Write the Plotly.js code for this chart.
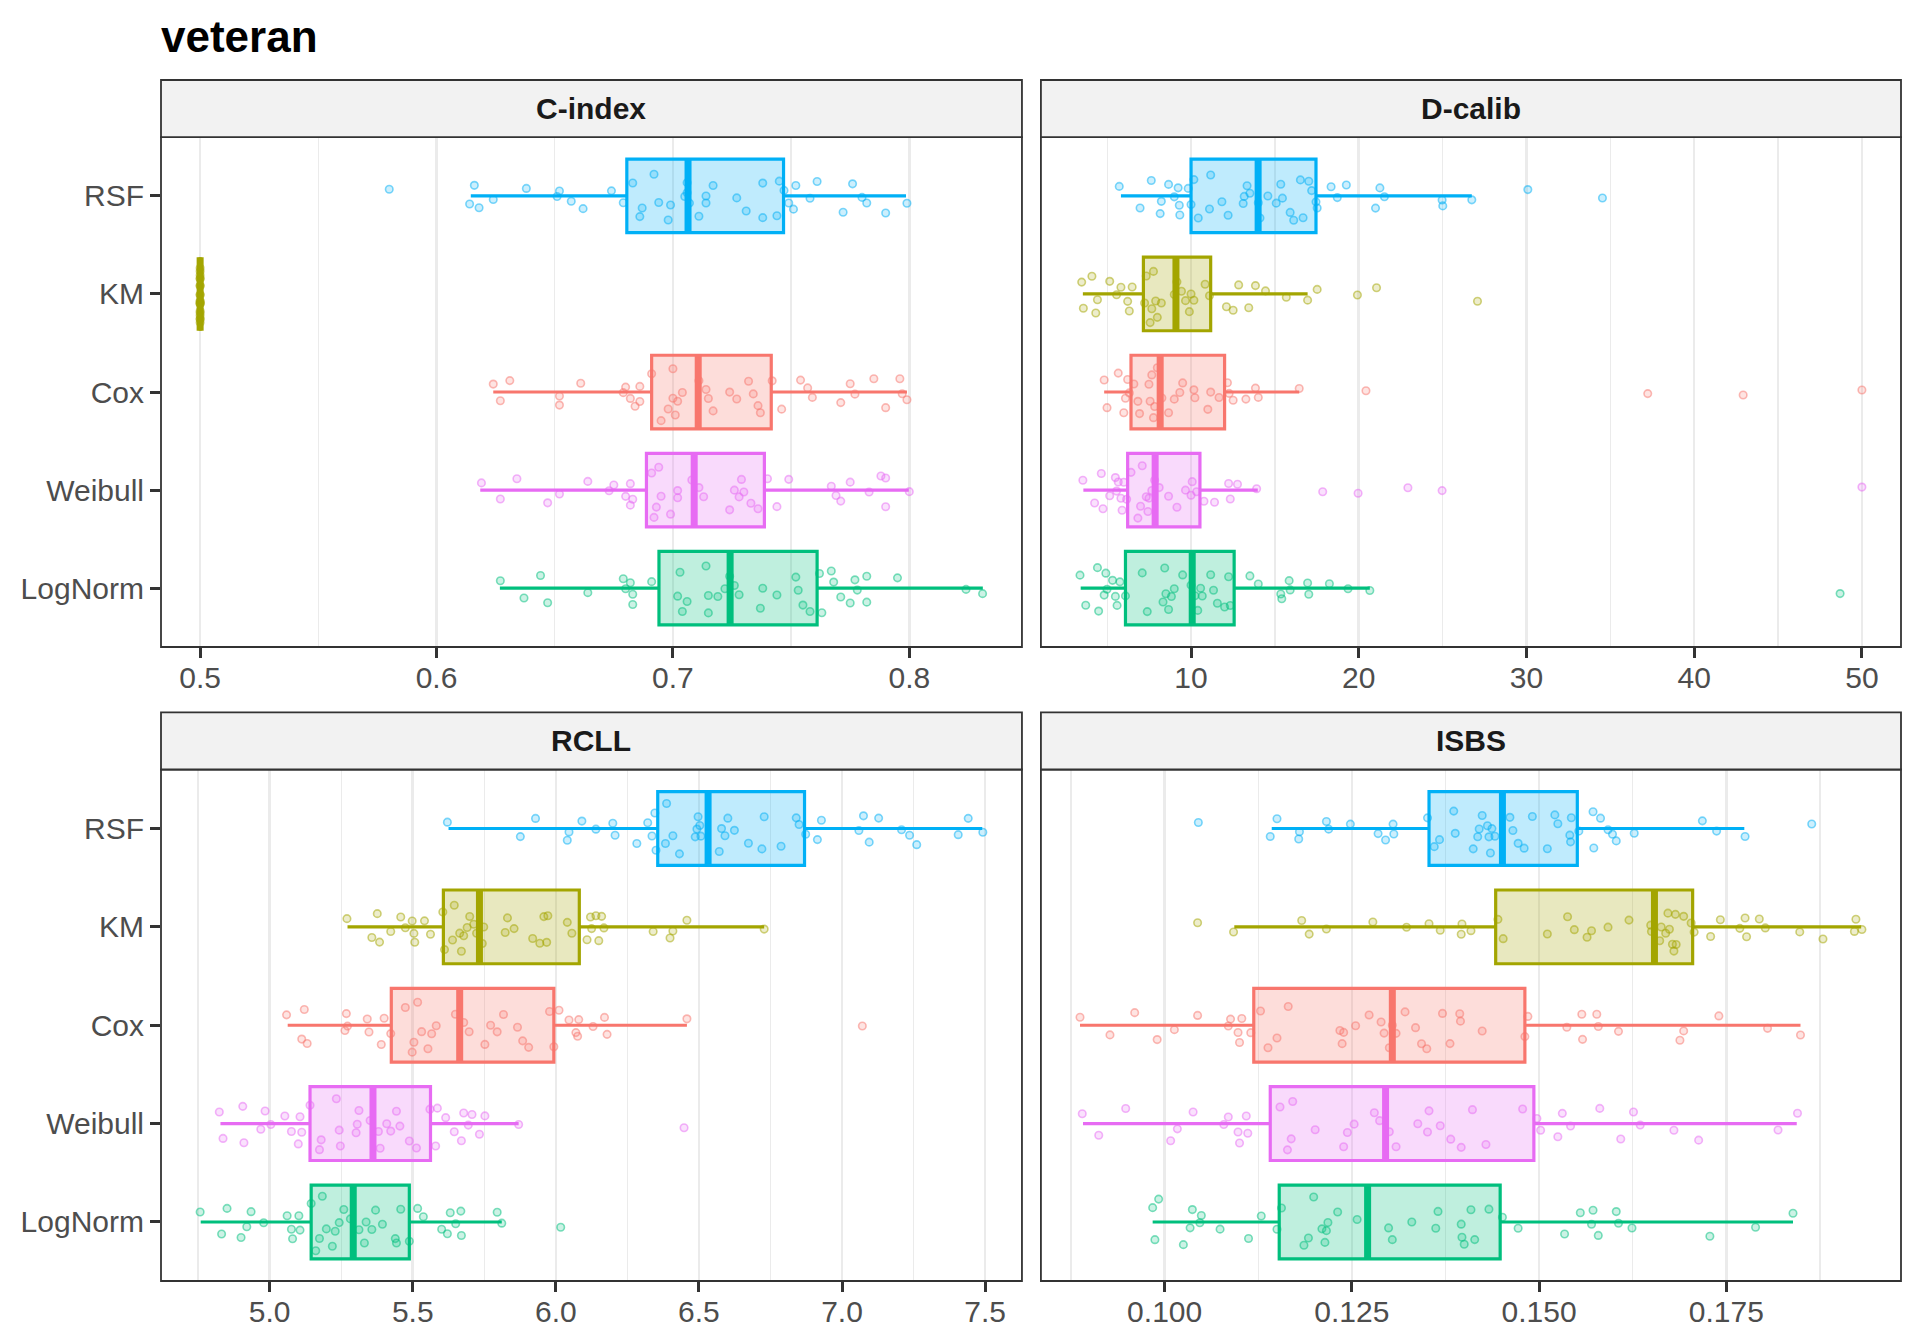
<!DOCTYPE html>
<html>
<head>
<meta charset="utf-8">
<script src="https://cdn.plot.ly/plotly-3.0.1.min.js"></script>
<style>
  html, body { margin: 0; padding: 0; background: #fff; }
  #chart { width: 1920px; height: 1344px; }
</style>
</head>
<body>
<div id="chart"></div>
<script>
// methods, top to bottom as in the figure
const methods = ['RSF', 'KM', 'Cox', 'Weibull', 'LogNorm'];
const colors  = ['#00B0F6', '#A3A500', '#F8766D', '#E76BF3', '#00BF7D'];
const panelTitles = ['C-index', 'D-calib', 'RCLL', 'ISBS'];

// ---- C-index ----  (order: RSF, KM, Cox, Weibull, LogNorm)
const cindexQ1  = [0.6805, 0.5, 0.6910, 0.6888, 0.6941];
const cindexMed = [0.7064, 0.5, 0.7107, 0.7090, 0.7242];
const cindexQ3  = [0.7468, 0.5, 0.7416, 0.7387, 0.7610];
const cindexLo  = [0.6145, 0.5, 0.6240, 0.6185, 0.6268];
const cindexHi  = [0.7986, 0.5, 0.7990, 0.7998, 0.8311];
const cindexRSF = [0.580, 0.614, 0.618, 0.624, 0.616, 0.638, 0.652, 0.651, 0.657, 0.662, 0.674, 0.679,
  0.683, 0.686, 0.687, 0.692, 0.694, 0.698, 0.699, 0.705, 0.706, 0.706, 0.707, 0.711, 0.714, 0.714,
  0.717, 0.727, 0.731, 0.738, 0.738, 0.744, 0.745, 0.747, 0.749, 0.751, 0.752, 0.758, 0.761, 0.772,
  0.776, 0.780, 0.782, 0.790, 0.799];
const cindexKM = [0.5, 0.5, 0.5, 0.5, 0.5, 0.5, 0.5, 0.5, 0.5, 0.5, 0.5, 0.5, 0.5, 0.5, 0.5, 0.5, 0.5, 0.5, 0.5, 0.5];
const cindexCox = [0.624, 0.627, 0.631, 0.652, 0.652, 0.661, 0.679, 0.680, 0.682, 0.684, 0.686, 0.686,
  0.691, 0.695, 0.698, 0.700, 0.700, 0.701, 0.702, 0.704, 0.711, 0.714, 0.715, 0.717, 0.724, 0.727,
  0.732, 0.734, 0.736, 0.737, 0.742, 0.746, 0.754, 0.757, 0.759, 0.771, 0.775, 0.777, 0.785, 0.790,
  0.796, 0.797, 0.799];
const cindexWeibull = [0.619, 0.627, 0.634, 0.647, 0.652, 0.664, 0.673, 0.675, 0.680, 0.682, 0.682, 0.683,
  0.691, 0.692, 0.693, 0.694, 0.695, 0.699, 0.702, 0.702, 0.708, 0.711, 0.713, 0.724, 0.726, 0.728,
  0.729, 0.730, 0.733, 0.736, 0.740, 0.744, 0.749, 0.767, 0.769, 0.771, 0.775, 0.783, 0.788, 0.790,
  0.790, 0.800];
const cindexLogNorm = [0.627, 0.637, 0.644, 0.647, 0.664, 0.679, 0.680, 0.682, 0.683, 0.683, 0.691, 0.702,
  0.703, 0.704, 0.706, 0.714, 0.715, 0.715, 0.719, 0.722, 0.724, 0.726, 0.728, 0.737, 0.738, 0.744,
  0.752, 0.753, 0.755, 0.758, 0.762, 0.763, 0.767, 0.768, 0.771, 0.775, 0.777, 0.778, 0.782, 0.782,
  0.795, 0.824, 0.831];

// ---- D-calib ----
const dcalibQ1  = [10.0, 7.16, 6.42, 6.22, 6.09];
const dcalibMed = [14.0, 9.10, 8.16, 7.86, 10.07];
const dcalibQ3  = [17.45, 11.17, 12.0, 10.53, 12.57];
const dcalibLo  = [5.82, 3.55, 4.82, 3.58, 3.42];
const dcalibHi  = [26.74, 16.95, 16.45, 13.98, 20.66];
const dcalibRSF = [5.72, 6.96, 7.63, 8.16, 8.23, 8.66, 9.00, 9.23, 9.30, 9.33, 9.83, 10.0, 10.17, 10.43,
  11.10, 11.17, 11.84, 12.21, 13.11, 13.17, 13.34, 13.51, 14.01, 14.11, 14.58, 15.08, 15.35, 15.45,
  15.91, 16.12, 16.52, 16.68, 17.02, 17.19, 17.45, 17.52, 18.35, 18.72, 19.26, 21.00, 21.26, 21.53,
  24.97, 25.01, 26.74, 30.08, 34.53];
const dcalibKM = [3.48, 3.58, 4.09, 4.32, 4.42, 5.15, 5.56, 5.82, 6.22, 6.32, 6.49, 7.23, 7.33, 7.56,
  7.66, 7.76, 7.89, 7.99, 8.23, 9.00, 9.16, 9.43, 9.67, 9.90, 10.0, 10.17, 10.84, 11.10, 12.11, 12.51,
  12.84, 13.44, 13.84, 14.44, 15.68, 16.95, 17.52, 19.92, 21.06, 27.08];
const dcalibCox = [4.82, 4.99, 5.66, 5.99, 6.09, 6.22, 6.32, 6.59, 6.83, 6.93, 7.49, 7.56, 7.66, 7.76,
  7.83, 7.99, 8.26, 8.66, 9.00, 9.33, 9.50, 10.17, 10.23, 11.00, 11.17, 11.67, 12.17, 12.27, 12.51,
  13.27, 13.84, 14.01, 16.45, 20.43, 37.23, 42.92, 50.0];
const dcalibWeibull = [3.55, 4.25, 4.65, 4.75, 5.15, 5.49, 5.56, 5.66, 5.82, 5.89, 5.99, 6.16, 6.42, 6.83,
  6.99, 7.09, 7.33, 7.43, 7.49, 7.66, 7.83, 8.10, 8.66, 9.16, 9.67, 10.0, 10.07, 10.33, 10.77, 11.40,
  12.24, 12.34, 12.77, 13.91, 17.85, 19.96, 22.93, 24.97, 50.0];
const dcalibLogNorm = [3.38, 3.72, 4.42, 4.49, 4.82, 4.92, 4.99, 5.32, 5.49, 5.59, 5.76, 6.09, 7.09, 7.39,
  8.33, 8.43, 8.50, 8.66, 8.83, 9.00, 9.50, 10.0, 10.23, 10.40, 10.57, 10.67, 11.17, 11.34, 11.57,
  12.0, 12.24, 12.34, 13.51, 14.01, 15.35, 15.41, 15.85, 15.91, 16.95, 17.02, 18.25, 19.36, 20.66, 48.70];

// ---- RCLL ----
const rcllQ1  = [6.356, 5.607, 5.425, 5.141, 5.145];
const rcllMed = [6.532, 5.733, 5.664, 5.361, 5.292];
const rcllQ3  = [6.869, 6.082, 5.993, 5.562, 5.488];
const rcllLo  = [5.625, 5.272, 5.063, 4.828, 4.759];
const rcllHi  = [7.490, 6.728, 6.458, 5.870, 5.811];
const rcllRSF = [5.621, 5.876, 5.929, 6.040, 6.046, 6.091, 6.140, 6.199, 6.207, 6.283, 6.321, 6.336,
  6.346, 6.350, 6.383, 6.387, 6.409, 6.432, 6.487, 6.493, 6.497, 6.503, 6.507, 6.571, 6.579, 6.591,
  6.601, 6.624, 6.673, 6.720, 6.728, 6.787, 6.840, 6.850, 6.873, 6.914, 6.928, 7.059, 7.075, 7.095,
  7.128, 7.208, 7.236, 7.261, 7.406, 7.441, 7.492];
const rcllKM = [5.270, 5.357, 5.376, 5.384, 5.423, 5.458, 5.474, 5.498, 5.504, 5.507, 5.541, 5.562,
  5.605, 5.611, 5.639, 5.645, 5.664, 5.670, 5.678, 5.690, 5.699, 5.713, 5.723, 5.743, 5.748, 5.823,
  5.831, 5.854, 5.919, 5.944, 5.958, 5.968, 5.972, 6.040, 6.056, 6.109, 6.121, 6.125, 6.140, 6.150,
  6.160, 6.168, 6.340, 6.399, 6.409, 6.458, 6.728];
const rcllCox = [5.059, 5.112, 5.121, 5.131, 5.263, 5.268, 5.272, 5.341, 5.347, 5.390, 5.400, 5.423,
  5.474, 5.498, 5.504, 5.517, 5.531, 5.553, 5.566, 5.582, 5.649, 5.678, 5.697, 5.752, 5.772, 5.795,
  5.817, 5.866, 5.884, 5.905, 5.978, 5.993, 6.011, 6.046, 6.070, 6.076, 6.080, 6.130, 6.170, 6.179,
  6.458, 7.071];
const rcllWeibull = [4.824, 4.837, 4.906, 4.910, 4.969, 4.984, 5.004, 5.053, 5.076, 5.100, 5.106, 5.112,
  5.141, 5.174, 5.180, 5.233, 5.243, 5.247, 5.302, 5.306, 5.312, 5.351, 5.380, 5.386, 5.409, 5.423,
  5.443, 5.455, 5.488, 5.513, 5.560, 5.580, 5.586, 5.615, 5.645, 5.670, 5.678, 5.694, 5.707, 5.733,
  5.752, 5.870, 6.448];
const rcllLogNorm = [4.757, 4.832, 4.851, 4.900, 4.920, 4.935, 4.979, 5.061, 5.076, 5.080, 5.102, 5.106,
  5.145, 5.161, 5.174, 5.184, 5.198, 5.219, 5.229, 5.243, 5.259, 5.282, 5.312, 5.331, 5.337, 5.357,
  5.370, 5.394, 5.439, 5.443, 5.458, 5.488, 5.517, 5.537, 5.601, 5.621, 5.631, 5.650, 5.668, 5.670,
  5.795, 5.811, 6.017];

// ---- ISBS ----
const isbsQ1  = [0.1353, 0.1442, 0.1119, 0.1141, 0.1153];
const isbsMed = [0.1451, 0.1654, 0.1304, 0.1295, 0.1271];
const isbsQ3  = [0.1551, 0.1705, 0.1481, 0.1493, 0.1448];
const isbsLo  = [0.1143, 0.1093, 0.0887, 0.0891, 0.0984];
const isbsHi  = [0.1774, 0.1930, 0.1849, 0.1844, 0.1839];
const isbsRSF = [0.1045, 0.1141, 0.1150, 0.1179, 0.1180, 0.1216, 0.1219, 0.1248, 0.1285, 0.1295, 0.1305,
  0.1306, 0.1351, 0.1360, 0.1367, 0.1386, 0.1388, 0.1412, 0.1418, 0.1420, 0.1424, 0.1431, 0.1433,
  0.1435, 0.1437, 0.1441, 0.1461, 0.1465, 0.1472, 0.1480, 0.1491, 0.1511, 0.1521, 0.1525, 0.1541,
  0.1542, 0.1543, 0.1553, 0.1572, 0.1573, 0.1582, 0.1592, 0.1598, 0.1603, 0.1627, 0.1718, 0.1737,
  0.1775, 0.1864];
const isbsKM = [0.1044, 0.1092, 0.1183, 0.1193, 0.1216, 0.1278, 0.1323, 0.1353, 0.1368, 0.1396, 0.1397,
  0.1409, 0.1445, 0.1452, 0.1511, 0.1538, 0.1547, 0.1564, 0.1570, 0.1592, 0.1620, 0.1649, 0.1650,
  0.1661, 0.1663, 0.1669, 0.1672, 0.1674, 0.1678, 0.1680, 0.1682, 0.1683, 0.1693, 0.1703, 0.1707,
  0.1729, 0.1742, 0.1768, 0.1775, 0.1777, 0.1794, 0.1802, 0.1848, 0.1879, 0.1921, 0.1923, 0.1931];
const isbsCox = [0.0887, 0.0927, 0.0960, 0.0990, 0.1013, 0.1044, 0.1085, 0.1088, 0.1098, 0.1100, 0.1103,
  0.1115, 0.1128, 0.1138, 0.1150, 0.1165, 0.1234, 0.1237, 0.1239, 0.1255, 0.1273, 0.1289, 0.1293,
  0.1300, 0.1304, 0.1309, 0.1321, 0.1335, 0.1343, 0.1350, 0.1371, 0.1381, 0.1394, 0.1395, 0.1424,
  0.1481, 0.1485, 0.1537, 0.1557, 0.1558, 0.1577, 0.1579, 0.1606, 0.1688, 0.1693, 0.1740, 0.1805, 0.1849];
const isbsWeibull = [0.0890, 0.0912, 0.0948, 0.1008, 0.1017, 0.1038, 0.1079, 0.1085, 0.1098, 0.1100,
  0.1109, 0.1111, 0.1154, 0.1164, 0.1169, 0.1171, 0.1201, 0.1239, 0.1244, 0.1253, 0.1280, 0.1287,
  0.1300, 0.1309, 0.1338, 0.1351, 0.1353, 0.1368, 0.1382, 0.1396, 0.1411, 0.1429, 0.1478, 0.1497,
  0.1502, 0.1525, 0.1531, 0.1542, 0.1581, 0.1609, 0.1626, 0.1635, 0.1680, 0.1713, 0.1819, 0.1845];
const isbsLogNorm = [0.0984, 0.0987, 0.0992, 0.1025, 0.1034, 0.1037, 0.1047, 0.1049, 0.1074, 0.1112,
  0.1129, 0.1150, 0.1156, 0.1186, 0.1192, 0.1199, 0.1210, 0.1214, 0.1216, 0.1218, 0.1231, 0.1257,
  0.1299, 0.1304, 0.1330, 0.1362, 0.1365, 0.1396, 0.1397, 0.1400, 0.1409, 0.1414, 0.1433, 0.1451,
  0.1472, 0.1534, 0.1555, 0.1570, 0.1572, 0.1579, 0.1603, 0.1606, 0.1624, 0.1728, 0.1789, 0.1839];

const panels = [
  { q1: cindexQ1, med: cindexMed, q3: cindexQ3, lo: cindexLo, hi: cindexHi,
    pts: [cindexRSF, cindexKM, cindexCox, cindexWeibull, cindexLogNorm], tick0: 0.5, dtick: 0.1, fmt: '.1f' },
  { q1: dcalibQ1, med: dcalibMed, q3: dcalibQ3, lo: dcalibLo, hi: dcalibHi,
    pts: [dcalibRSF, dcalibKM, dcalibCox, dcalibWeibull, dcalibLogNorm], tick0: 0, dtick: 10, fmt: 'd' },
  { q1: rcllQ1, med: rcllMed, q3: rcllQ3, lo: rcllLo, hi: rcllHi,
    pts: [rcllRSF, rcllKM, rcllCox, rcllWeibull, rcllLogNorm], tick0: 5, dtick: 0.5, fmt: '.1f' },
  { q1: isbsQ1, med: isbsMed, q3: isbsQ3, lo: isbsLo, hi: isbsHi,
    pts: [isbsRSF, isbsKM, isbsCox, isbsWeibull, isbsLogNorm], tick0: 0.1, dtick: 0.025, fmt: '.3f' }
];

const FONT = 'Liberation Sans, Arial, sans-serif';

function rgba(hex, a) {
  const n = parseInt(hex.slice(1), 16);
  return 'rgba(' + (n >> 16) + ',' + ((n >> 8) & 255) + ',' + (n & 255) + ',' + a + ')';
}

// panel geometry (paper fractions)
const xDom = [[0, 0.4948], [0.5057, 1], [0, 0.4948], [0.5057, 1]];
const yDom = [[0.5279, 0.9525], [0.5279, 0.9525], [0, 0.4259], [0, 0.4259]];
const stripH = 0.0475;

const traces = [];
const layout = {
  width: 1920, height: 1344,
  margin: { l: 161, r: 19, t: 80, b: 63 },
  paper_bgcolor: '#ffffff', plot_bgcolor: '#ffffff',
  showlegend: false,
  boxmode: 'overlay',
  font: { family: FONT, size: 30, color: '#4D4D4D' },
  title: { text: '<b>veteran</b>', x: 161 / 1920, xanchor: 'left', y: 1 - 37 / 1344, yanchor: 'middle',
           font: { family: FONT, size: 44, color: '#000000' } },
  shapes: [], annotations: []
};

panels.forEach((p, i) => {
  const xa = 'x' + (i === 0 ? '' : i + 1);
  const ya = 'y' + (i === 0 ? '' : i + 1);

  methods.forEach((m, j) => {
    const c = colors[j];
    // box + whiskers
    traces.push({
      type: 'box', orientation: 'h', xaxis: xa, yaxis: ya,
      y: [m], q1: [p.q1[j]], median: [p.med[j]], q3: [p.q3[j]],
      lowerfence: [p.lo[j]], upperfence: [p.hi[j]],
      width: 0.75, whiskerwidth: 0, boxpoints: false,
      line: { color: c, width: 3.2 }, fillcolor: rgba(c, 0.25), hoverinfo: 'skip'
    });
    // jittered observations
    traces.push({
      type: 'box', orientation: 'h', xaxis: xa, yaxis: ya,
      x: p.pts[j], y: p.pts[j].map(() => m),
      width: 0.75, boxpoints: 'all', jitter: 0.8, pointpos: 0,
      line: { color: 'rgba(0,0,0,0)', width: 0 }, fillcolor: 'rgba(0,0,0,0)',
      marker: { size: 7.5, color: rgba(c, 0.2), line: { color: rgba(c, 0.5), width: 1.6 } },
      hoverinfo: 'skip'
    });
    // thicker median bar
    traces.push({
      type: 'box', orientation: 'h', xaxis: xa, yaxis: ya,
      y: [m], q1: [p.med[j]], median: [p.med[j]], q3: [p.med[j]],
      lowerfence: [p.med[j]], upperfence: [p.med[j]],
      width: 0.75, whiskerwidth: 0, boxpoints: false,
      line: { color: c, width: 7 }, fillcolor: 'rgba(0,0,0,0)', hoverinfo: 'skip'
    });
  });

  const all = [].concat(...p.pts, p.lo, p.hi);
  const mn = Math.min(...all), mx = Math.max(...all), pad = 0.05 * (mx - mn);

  layout['xaxis' + (i === 0 ? '' : i + 1)] = {
    domain: xDom[i], anchor: ya, range: [mn - pad, mx + pad],
    tickmode: 'linear', tick0: p.tick0, dtick: p.dtick, tickformat: p.fmt,
    showgrid: true, gridcolor: '#EBEBEB', gridwidth: 2.6, zeroline: false,
    minor: { tick0: p.tick0, dtick: p.dtick / 2, showgrid: true, gridcolor: '#EBEBEB', gridwidth: 1.3 },
    ticks: 'outside', ticklen: 10, tickwidth: 3, tickcolor: '#333333',
    ticklabelstandoff: -6,
    tickfont: { family: FONT, size: 30, color: '#4D4D4D' },
    showline: false, fixedrange: true
  };
  const left = (i % 2 === 0);
  layout['yaxis' + (i === 0 ? '' : i + 1)] = {
    domain: yDom[i], anchor: xa, type: 'category',
    categoryorder: 'array', categoryarray: methods.slice().reverse(),
    range: [-0.6, 4.6], showgrid: false, zeroline: false,
    ticks: left ? 'outside' : '', ticklen: 10, tickwidth: 3, tickcolor: '#333333',
    showticklabels: left, tickfont: { family: FONT, size: 30, color: '#4D4D4D' },
    showline: false, fixedrange: true
  };

  // panel border
  layout.shapes.push({
    type: 'rect', xref: xa + ' domain', yref: ya + ' domain', x0: 0, x1: 1, y0: 0, y1: 1,
    line: { color: '#333333', width: 1.8 }, fillcolor: 'rgba(0,0,0,0)', layer: 'above'
  });
  // strip
  layout.shapes.push({
    type: 'rect', xref: 'paper', yref: 'paper',
    x0: xDom[i][0], x1: xDom[i][1], y0: yDom[i][1], y1: yDom[i][1] + stripH,
    line: { color: '#333333', width: 1.8 }, fillcolor: '#F2F2F2', layer: 'above'
  });
  layout.annotations.push({
    xref: 'paper', yref: 'paper', x: (xDom[i][0] + xDom[i][1]) / 2, y: yDom[i][1] + stripH / 2,
    xanchor: 'center', yanchor: 'middle', showarrow: false,
    text: '<b>' + panelTitles[i] + '</b>', font: { family: FONT, size: 30, color: '#1A1A1A' }
  });
});

Plotly.newPlot('chart', traces, layout, { staticPlot: true, displayModeBar: false });
</script>
</body>
</html>
